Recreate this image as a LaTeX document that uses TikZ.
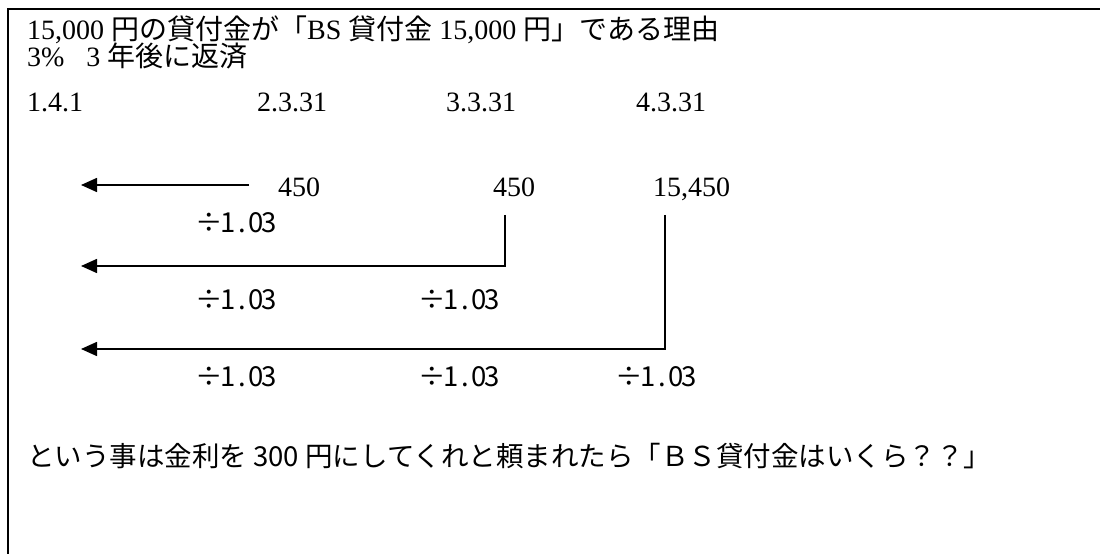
\documentclass[tikz,border=0pt]{standalone}
\usepackage{fontspec}
\setmainfont{Liberation Serif}
\newfontfamily\jp{Noto Sans CJK JP}
\newcommand\J[1]{{\jp #1}}
\usetikzlibrary{arrows.meta}
\tikzset{
  mincho/.style={anchor=base west, inner sep=0pt, font=\fontsize{28bp}{32bp}\selectfont},
  gothic/.style={anchor=base west, inner sep=0pt, font=\fontsize{27.5bp}{31bp}\selectfont\jp},
  conn/.style={line width=1.6bp, -{Triangle[length=16bp,width=14bp]}},
  frame/.style={line width=1.8bp}
}
\newcommand\divlabel{\makebox[.95em][l]{÷}\makebox[.5em][c]{1}\makebox[.5em][c]{.}\makebox[.5em][c]{0}\makebox[.5em][c]{3}}
\begin{document}
\begin{tikzpicture}[x=1bp,y=-1bp]
\useasboundingbox (0,0) rectangle (1100,554);
\draw[frame] (8,554) -- (8,9) -- (1100,9);
\node[mincho] (title) at (27,40) {15,000 \J{円の貸付金が「}BS \J{貸付金} 15,000 \J{円」である理由}};
\node[mincho] (cond) at (27,67) {3\%\hspace{0.78em}3\hspace{0.25em}\J{年後に返済}};
\node[mincho] (d1) at (27,112) {1.4.1};
\node[mincho] (d2) at (257,112) {2.3.31};
\node[mincho] (d3) at (446,112) {3.3.31};
\node[mincho] (d4) at (636,112) {4.3.31};
\node[mincho] (v1) at (278,197) {450};
\node[mincho] (v2) at (493,197) {450};
\node[mincho] (v3) at (653,197) {15,450};
\coordinate (s1) at (249,185);
\coordinate (e1) at (81,185);
\coordinate (s2) at (505,215);
\coordinate (e2) at (81,266);
\coordinate (s3) at (665,215);
\coordinate (e3) at (81,349);
\draw[conn] (s1) -- (e1);
\draw[conn] (s2) |- (e2);
\draw[conn] (s3) |- (e3);
\node[gothic] (r1a) at (195,233) {\divlabel};
\node[gothic] (r2a) at (195,310) {\divlabel};
\node[gothic] (r2b) at (418,310) {\divlabel};
\node[gothic] (r3a) at (195,387) {\divlabel};
\node[gothic] (r3b) at (418,387) {\divlabel};
\node[gothic] (r3c) at (615,387) {\divlabel};
\node[gothic] (q) at (27,466) {という事は金利を 300 円にしてくれと頼まれたら「ＢＳ貸付金はいくら？？」};
\end{tikzpicture}
\end{document}
